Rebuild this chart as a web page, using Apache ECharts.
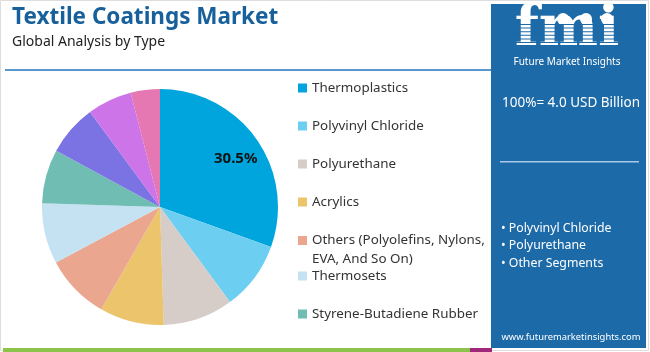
<!DOCTYPE html>
<html>
<head>
<meta charset="utf-8">
<script src="https://cdn.jsdelivr.net/npm/echarts@6/dist/echarts.min.js"></script>
<style>html,body{margin:0;padding:0;background:#fff}#c{width:650px;height:352px}</style>
</head>
<body>
<div id="c"></div>
<script>
const categories = ["Thermoplastics","Polyvinyl Chloride","Polyurethane","Acrylics","Others (Polyolefins, Nylons, EVA, And So On)","Thermosets","Styrene-Butadiene Rubber","Silicones","Fluoropolymers","Epoxy"];
const shares = [30.5, 9.4, 9.6, 8.8, 8.9, 8.3, 7.4, 7.0, 6.1, 4.0];
const colors = ["#00a5dd","#6ccff2","#d6ccc8","#ebc46c","#eaa68f","#c5e2f2","#70bdb3","#7b72e3","#cd74e8","#e577b3"];
const legendNames = categories.slice(0, 7);
const segmentList = ["Polyvinyl Chloride","Polyurethane","Other Segments"];
const totalLabel = "100%= 4.0 USD Billion";

const FONT = "Noto Sans";
const PANEL = '#1d6aa8';
const chart = echarts.init(document.getElementById('c'), null, {renderer: 'canvas'});

const legendBase = {
  orient: 'vertical', left: 298, padding: 0, itemGap: 22,
  itemWidth: 9, itemHeight: 9, icon: 'rect', selectedMode: false,
  textStyle: {fontFamily: FONT, fontSize: 13.4, color: '#333', lineHeight: 16}
};

const stripes = [];
for (let y = 24; y <= 56; y += 3.6) {
  stripes.push({type: 'rect', shape: {x: 508, y: y, width: 120, height: 1}, style: {fill: PANEL}, z: 12});
}
const globes = [563, 586, 607].map(x => ({type: 'circle', shape: {cx: x, cy: 19, r: 6}, style: {fill: '#ffffff'}, z: 11}));

chart.setOption({
  animation: false,
  color: colors,
  title: [
    {text: 'Textile Coatings Market', left: 12, top: 6, padding: 0,
     textStyle: {fontFamily: FONT, fontSize: 22.5, fontWeight: 'bold', color: '#17609c'}},
    {text: 'Global Analysis by Type', left: 12, top: 35, padding: 0,
     textStyle: {fontFamily: FONT, fontSize: 14, fontWeight: 'normal', color: '#222'}}
  ],
  legend: [
    Object.assign({}, legendBase, {top: 80, data: legendNames.slice(0, 4)}),
    Object.assign({}, legendBase, {top: 212, data: [legendNames[4]], textStyle: Object.assign({}, legendBase.textStyle, {lineHeight: 19}),
      formatter: function () { return ' \nOthers (Polyolefins, Nylons,\nEVA, And So On)'; }}),
    Object.assign({}, legendBase, {top: 268, data: legendNames.slice(5, 7)})
  ],
  graphic: [
    {type: 'rect', shape: {x: 0.5, y: 0.5, width: 648, height: 350}, style: {fill: 'none', stroke: '#dddddd', lineWidth: 1}, z: 1},
    {type: 'rect', shape: {x: 3, y: 348, width: 468, height: 4}, style: {fill: '#8cc34b'}, z: 2},
    {type: 'rect', shape: {x: 470, y: 348, width: 22, height: 4}, style: {fill: '#a0287a'}, z: 2},
    {type: 'rect', shape: {x: 5, y: 69, width: 487, height: 2}, style: {fill: '#5b95cc'}, z: 2},
    {type: 'rect', shape: {x: 491, y: 4, width: 155, height: 344}, style: {fill: PANEL}, z: 3},
    {type: 'text', x: 567, y: 58, style: {text: 'fmi', fontFamily: 'DejaVu Serif', fontWeight: 'bold', fontSize: 56, fill: '#ffffff', align: 'center', verticalAlign: 'bottom'}, z: 10},
    ...globes,
    ...stripes,
    {type: 'text', x: 567, y: 62, style: {text: 'Future Market Insights', fontFamily: FONT, fontSize: 10, fill: '#ffffff', align: 'center', verticalAlign: 'middle'}, z: 10},
    {type: 'text', x: 502, y: 103, style: {text: totalLabel, fontFamily: FONT, fontSize: 13.5, fill: '#ffffff', verticalAlign: 'middle'}, z: 10},
    {type: 'rect', shape: {x: 500, y: 161, width: 139, height: 1.5}, style: {fill: '#a9c9e8'}, z: 10},
    ...segmentList.map((s, i) => ({type: 'text', x: 501, y: 228 + i * 17.5, style: {text: '• ' + s, fontFamily: FONT, fontSize: 12.3, fill: '#ffffff', verticalAlign: 'middle'}, z: 10})),
    {type: 'text', x: 571, y: 337, style: {text: 'www.futuremarketinsights.com', fontFamily: FONT, fontSize: 9.4, fill: '#ffffff', align: 'center', verticalAlign: 'middle'}, z: 10}
  ],
  series: [{
    type: 'pie',
    center: [160, 207],
    radius: [0, 118],
    startAngle: 90,
    clockwise: true,
    avoidLabelOverlap: false,
    itemStyle: {borderWidth: 0},
    label: {show: false},
    labelLine: {show: false},
    emphasis: {disabled: true},
    data: categories.map((n, i) => ({
      name: n, value: shares[i],
      label: i === 0 ? {show: true, position: 'inside', formatter: '{c}%', fontFamily: FONT, fontSize: 15, fontWeight: 'bold', color: '#111'} : {show: false}
    })),
    labelLayout: function (p) {
      if (p.dataIndex === 0) return {dx: 25, dy: -13};
      return {};
    }
  }]
});
</script>
</body>
</html>
